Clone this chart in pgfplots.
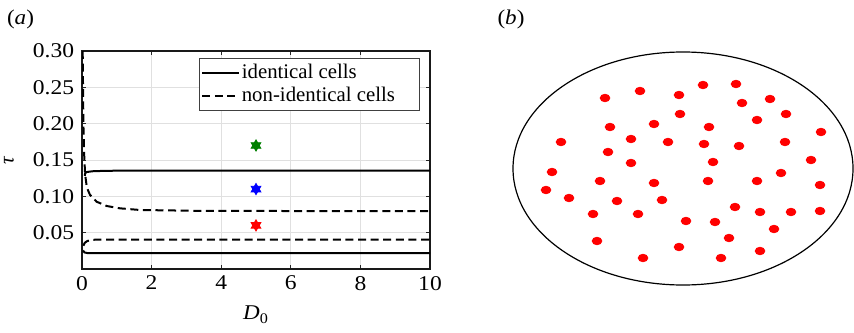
\documentclass[border=0pt]{standalone}
\usepackage{fontspec}
\setmainfont{Liberation Serif}
\usepackage{pgfplots}
\pgfplotsset{compat=1.18}
\definecolor{mgreen}{rgb}{0,0.5,0}
\pgfdeclareplotmark{hexstar}{%
  \pgfpathmoveto{\pgfqpointpolar{90}{\pgfplotmarksize}}%
  \pgfpathlineto{\pgfqpointpolar{210}{\pgfplotmarksize}}%
  \pgfpathlineto{\pgfqpointpolar{330}{\pgfplotmarksize}}%
  \pgfpathclose
  \pgfpathmoveto{\pgfqpointpolar{270}{\pgfplotmarksize}}%
  \pgfpathlineto{\pgfqpointpolar{390}{\pgfplotmarksize}}%
  \pgfpathlineto{\pgfqpointpolar{510}{\pgfplotmarksize}}%
  \pgfpathclose
  \pgfusepathqfillstroke
}
\begin{document}
\begin{tikzpicture}
\useasboundingbox (0,0) rectangle (427pt,166pt);
\node[font=\fontsize{10.5}{12}\selectfont, xscale=1.1] at (10.25pt,156.25pt) {(\textit{a})};
\node[font=\fontsize{10.5}{12}\selectfont, xscale=1.1] at (255.5pt,156.25pt) {(\textit{b})};
\begin{axis}[
  at={(41pt,31.5pt)}, anchor=south west, scale only axis,
  width=174pt, height=109pt,
  xmin=0, xmax=10, ymin=0, ymax=0.30,
  xtick={0,2,4,6,8,10},
  ytick={0.05,0.10,0.15,0.20,0.25,0.30},
  yticklabel style={/pgf/number format/.cd, fixed, fixed zerofill, precision=2},
  /pgf/number format/assume math mode=true,
  tick label style={font=\fontsize{10.5}{12}\selectfont, xscale=1.12},
  grid=major, major grid style={black!12, line width=0.5pt},
  axis line style={black!90, line width=0.6pt},
  tick style={black!85, line width=0.5pt}, major tick length=2.2pt,
  xlabel={\textit{D}\textsubscript{0}},
  ylabel={\textit{τ}},
  label style={font=\fontsize{10.5}{12}\selectfont},
  xlabel style={at={(axis description cs:0.5,-0.21)}, anchor=center, xscale=1.1},
  ylabel style={at={(axis description cs:-0.21,0.5)}, anchor=center},
  legend style={at={(1,1)}, anchor=north east, xshift=-5pt, yshift=-3.5pt,
    draw=black!75, line width=0.5pt, font=\fontsize{10.4}{11}\selectfont,
    inner sep=1pt, row sep=-1.5pt, nodes={inner xsep=0.8pt}},
  legend cell align=left,
  legend image code/.code={\draw[#1] (0pt,0pt) -- (18.5pt,0pt);},
]
\addplot[black, line width=1pt] coordinates {
 (0.08,0.128) (0.09,0.1318) (0.14,0.1335) (0.3,0.1345) (0.6,0.135) (1.0,0.1353) (10,0.1355)};
\addlegendentry{identical cells}
\addplot[black, line width=1pt, dash pattern=on 4pt off 2.3pt] coordinates {
 (0.02,0.30) (0.03,0.25) (0.04,0.20) (0.06,0.16) (0.09,0.13) (0.14,0.112) (0.23,0.102)
 (0.42,0.0926) (0.71,0.0867) (1.09,0.0835) (1.67,0.0812) (3.4,0.0800) (10,0.0795)};
\addlegendentry{non-identical cells\hspace*{10.5pt}}
\addplot[black, line width=1pt, forget plot] coordinates {
 (0.03,0.0255) (0.07,0.0228) (0.15,0.022) (10,0.022)};
\addplot[black, line width=1pt, dash pattern=on 4pt off 2.3pt, forget plot] coordinates {
 (0.04,0.032) (0.08,0.036) (0.15,0.0385) (0.3,0.0402) (0.6,0.0405) (10,0.0405)};
\addplot[only marks, mark=hexstar, mark size=2.8pt, color=mgreen, forget plot] coordinates {(5,0.17)};
\addplot[only marks, mark=hexstar, mark size=2.8pt, color=blue, forget plot] coordinates {(5,0.11)};
\addplot[only marks, mark=hexstar, mark size=2.8pt, color=red, forget plot] coordinates {(5,0.06)};
\end{axis}
\begin{axis}[
  at={(245pt,0pt)}, anchor=south west, scale only axis,
  width=182pt, height=166pt,
  xmin=490, xmax=854, ymin=0, ymax=332, y dir=reverse,
  hide axis, clip=false,
]
\draw[black, line width=0.6pt] (axis cs:683,168.5) ellipse [x radius=170, y radius=116.5];
\addplot[only marks, mark=*, red, mark size=2.1pt, mark options={xscale=1.15, yscale=0.9, draw=red, fill=red}] coordinates {
 (605,98) (640,91) (679,95) (703,85) (736,84) (742,103) (770,99) (786,114)
 (680,114) (757,120) (610,127) (654,124) (709,127) (821,132) (561,142) (631,139)
 (668,142) (704,144) (739,146) (785,142) (608,152) (631,163) (713,162) (811,160)
 (552,172) (600,181) (654,183) (708,181) (757,181) (781,173) (820,185) (546,190)
 (569,198) (617,201) (662,200) (735,207) (760,212) (791,212) (820,211) (593,214)
 (638,214) (686,221) (715,222) (774,229) (729,238) (597,241) (679,247) (760,251)
 (643,258) (721,258)};
\end{axis}
\end{tikzpicture}
\end{document}
